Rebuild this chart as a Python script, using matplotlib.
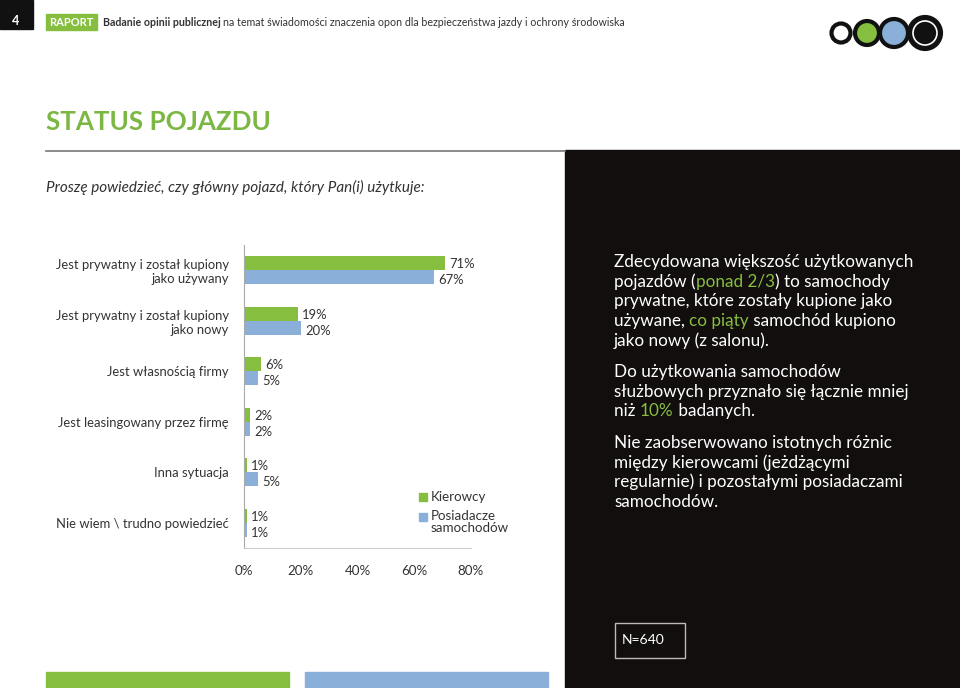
import matplotlib
matplotlib.use("Agg")
from matplotlib import pyplot as plt
from matplotlib.patches import Rectangle, Circle

plt.rcParams['font.family'] = ['Lato', 'DejaVu Sans']

# data
categories = ["Jest prywatny i został kupiony\njako używany",
              "Jest prywatny i został kupiony\njako nowy",
              "Jest własnością firmy",
              "Jest leasingowany przez firmę",
              "Inna sytuacja",
              "Nie wiem \\ trudno powiedzieć"]
kierowcy = [71, 19, 6, 2, 1, 1]
posiadacze = [67, 20, 5, 2, 5, 1]
series_names = ["Kierowcy", "Posiadacze\nsamochodów"]
x_ticks = [0, 20, 40, 60, 80]

GREEN = "#86be3f"
BLUE = "#8aafd8"
DARK = "#120e0e"
TXT = "#333333"

fig = plt.figure(figsize=(9.6, 6.88), dpi=100)
bg = fig.add_axes([0, 0, 1, 1])
bg.set_xlim(0, 960)
bg.set_ylim(688, 0)
bg.axis("off")
renderer = fig.canvas.get_renderer()


def text_width(s, **kw):
    # width in px, with a bar appended so trailing spaces count
    t1 = bg.text(0, 0, s + "|", **kw)
    t2 = bg.text(0, 0, "|", **kw)
    w = t1.get_window_extent(renderer).width - t2.get_window_extent(renderer).width
    t1.remove()
    t2.remove()
    return w


def rich_line(x, y, parts, **kw):
    # all parts share one font, so place each one after the whole prefix
    done = ""
    for s, col in parts:
        bg.text(x + text_width(done, **kw), y, s, color=col, va="center", **kw)
        done += s


# header
bg.add_patch(Rectangle((0, 0), 33, 29, color="#111111"))
bg.text(16, 21, "4", color="white", fontsize=9, fontweight="bold", ha="center", va="center")
bg.add_patch(Rectangle((46, 14), 51, 16, color=GREEN))
bg.text(71.5, 22, "RAPORT", color="white", fontsize=8, fontweight="bold", ha="center", va="center")
head_bold = "Badanie opinii publicznej"
bg.text(103, 22, head_bold, color=TXT, fontsize=7.7, fontweight="bold", va="center")
bg.text(103 + text_width(head_bold + " ", fontsize=7.7, fontweight="bold"), 22,
        "na temat świadomości znaczenia opon dla bezpieczeństwa jazdy i ochrony środowiska",
        color=TXT, fontsize=7.7, va="center")

# logo
for cx, r, fc in [(841, 9.5, "white"), (867, 12, GREEN), (894, 14, BLUE), (925, 16, "#111111")]:
    bg.add_patch(Circle((cx, 33), r, facecolor=fc, edgecolor="#111111", lw=3.0))
bg.add_patch(Circle((925, 33), 12, facecolor="none", edgecolor="white", lw=1.2))

# title
bg.text(46, 122, "STATUS POJAZDU", color="#7cb743", fontsize=18.7, fontweight="bold", va="center")
bg.plot([46, 565], [151, 151], color="#777777", lw=1.2)
bg.text(46, 187, "Proszę powiedzieć, czy główny pojazd, który Pan(i) użytkuje:", color=TXT,
        fontsize=11, style="italic", va="center")

# dark panel
bg.add_patch(Rectangle((565, 150), 395, 538, color=DARK))
panel_lines = [
    [("Zdecydowana większość użytkowanych", "white")],
    [("pojazdów (", "white"), ("ponad 2/3", GREEN), (") to samochody", "white")],
    [("prywatne, które zostały kupione jako", "white")],
    [("używane, ", "white"), ("co piąty", GREEN), (" samochód kupiono", "white")],
    [("jako nowy (z salonu).", "white")],
    None,
    [("Do użytkowania samochodów", "white")],
    [("służbowych przyznało się łącznie mniej", "white")],
    [("niż ", "white"), ("10%", GREEN), (" badanych.", "white")],
    None,
    [("Nie zaobserwowano istotnych różnic", "white")],
    [("między kierowcami (jeżdżącymi", "white")],
    [("regularnie) i pozostałymi posiadaczami", "white")],
    [("samochodów.", "white")],
]
y = 262
for line in panel_lines:
    if line is None:
        y += 12
        continue
    rich_line(614, y, line, fontsize=12.3)
    y += 19.6

bg.add_patch(Rectangle((614.5, 622.5), 70, 35, facecolor="none", edgecolor="#bbbbbb", lw=1))
bg.text(622, 640, "N=640", color="white", fontsize=10, va="center")

# bottom strips
bg.add_patch(Rectangle((46, 672), 243, 16, color=GREEN))
bg.add_patch(Rectangle((305, 672), 243, 16, color=BLUE))

# chart
ax = fig.add_axes([244 / 960, 1 - 548 / 688, 227 / 960, 303 / 688])
idx = list(range(len(categories)))
h = 0.28
ax.barh([i - h / 2 for i in idx], kierowcy, height=h, color=GREEN, label=series_names[0])
ax.barh([i + h / 2 for i in idx], posiadacze, height=h, color=BLUE, label=series_names[1])
for i in idx:
    ax.text(kierowcy[i] + 1.5, i - h / 2 + 0.02, f"{kierowcy[i]}%", va="center", fontsize=9.4,
            color=TXT, clip_on=False)
    ax.text(posiadacze[i] + 1.5, i + h / 2 + 0.06, f"{posiadacze[i]}%", va="center", fontsize=9.4,
            color=TXT, clip_on=False)
ax.set_xlim(0, 80)
ax.set_ylim(len(categories) - 0.5, -0.5)
ax.set_yticks(idx)
ax.set_yticklabels(categories, fontsize=9.35, color=TXT)
ax.set_xticks(x_ticks)
ax.set_xticklabels([f"{v}%" for v in x_ticks], fontsize=9.6, color=TXT)
ax.tick_params(length=0)
ax.tick_params(axis="y", pad=11)
ax.tick_params(axis="x", pad=12)
for s in ["top", "right"]:
    ax.spines[s].set_visible(False)
ax.spines["left"].set_color("#aaaaaa")
ax.spines["bottom"].set_color("#cccccc")
ax.patch.set_alpha(0)

# legend, drawn by hand to keep the square next to the first line
bg.add_patch(Rectangle((419, 493), 8, 8, color=GREEN))
bg.text(431, 497, series_names[0], fontsize=9.6, color=TXT, va="center")
bg.add_patch(Rectangle((419, 513), 8, 8, color=BLUE))
bg.text(431, 510, series_names[1], fontsize=9.6, color=TXT, va="top", linespacing=1.0)

fig.savefig("out.png", dpi=100)
